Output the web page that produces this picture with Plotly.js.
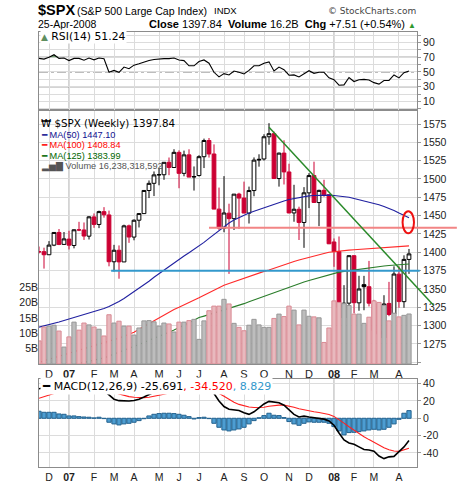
<!DOCTYPE html>
<html><head><meta charset="utf-8">
<script src="https://cdn.plot.ly/plotly-3.0.1.min.js"></script>
<style>html,body{margin:0;padding:0;background:#fff;}#chart{width:460px;height:482px;}</style>
</head><body><div id="chart"></div>
<script>
// ---------- data (weekly, Monday of each week) ----------
const weeks = ['2006-11-20','2006-11-27','2006-12-04','2006-12-11','2006-12-18','2006-12-25','2007-01-01','2007-01-08','2007-01-15','2007-01-22','2007-01-29','2007-02-05','2007-02-12','2007-02-19','2007-02-26','2007-03-05','2007-03-12','2007-03-19','2007-03-26','2007-04-02','2007-04-09','2007-04-16','2007-04-23','2007-04-30','2007-05-07','2007-05-14','2007-05-21','2007-05-28','2007-06-04','2007-06-11','2007-06-18','2007-06-25','2007-07-02','2007-07-09','2007-07-16','2007-07-23','2007-07-30','2007-08-06','2007-08-13','2007-08-20','2007-08-27','2007-09-03','2007-09-10','2007-09-17','2007-09-24','2007-10-01','2007-10-08','2007-10-15','2007-10-22','2007-10-29','2007-11-05','2007-11-12','2007-11-19','2007-11-26','2007-12-03','2007-12-10','2007-12-17','2007-12-24','2007-12-31','2008-01-07','2008-01-14','2008-01-21','2008-01-28','2008-02-04','2008-02-11','2008-02-18','2008-02-25','2008-03-03','2008-03-10','2008-03-17','2008-03-24','2008-03-31','2008-04-07','2008-04-14','2008-04-21'];

const openPx = [1400.4,1400.9,1396.7,1409.8,1427.1,1410.8,1418.0,1409.3,1430.7,1430.5,
1422.0,1448.3,1438.0,1455.5,1451.0,1387.1,1402.8,1386.9,1436.1,1420.8,
1443.8,1452.8,1484.3,1494.1,1505.6,1505.8,1522.8,1515.7,1536.3,1507.7,
1532.9,1502.6,1504.7,1530.4,1552.5,1534.1,1458.9,1433.0,1453.4,1445.9,
1479.4,1474.0,1453.4,1484.2,1525.8,1527.3,1557.6,1561.8,1500.6,1535.3,
1509.6,1453.7,1458.7,1440.7,1481.1,1504.7,1467.9,1484.5,1478.6,1414.1,
1401.0,1310.4,1330.7,1395.4,1331.1,1355.9,1353.1,1330.5,1293.2,1283.2,
1330.3,1315.9,1370.2,1332.7,1390.3];

const highPx = [1407.9,1406.3,1415.3,1427.2,1431.8,1427.7,1429.4,1431.2,1441.6,1440.7,
1449.3,1453.0,1456.8,1461.6,1456.9,1410.2,1409.4,1437.7,1437.8,1444.9,
1453.1,1484.7,1498.0,1510.3,1513.8,1522.8,1529.3,1540.6,1539.1,1538.7,
1540.5,1517.1,1532.4,1555.1,1555.9,1547.2,1488.3,1503.9,1466.3,1479.4,
1481.2,1496.4,1489.6,1529.4,1533.7,1561.0,1576.1,1564.7,1536.0,1552.8,
1520.8,1492.1,1462.2,1488.9,1508.0,1523.6,1485.4,1499.0,1478.8,1418.9,
1421.6,1355.2,1396.0,1396.0,1368.0,1367.9,1388.3,1335.1,1331.0,1341.5,
1359.7,1380.9,1381.0,1395.9,1404.6];

const lowPx = [1398.4,1377.8,1396.7,1408.4,1409.8,1410.5,1403.9,1405.4,1428.9,1416.9,
1417.5,1433.4,1433.0,1447.3,1380.9,1373.9,1364.0,1386.9,1412.9,1416.4,
1433.9,1452.8,1474.0,1476.7,1491.4,1498.9,1505.2,1515.7,1487.4,1503.7,
1502.6,1484.2,1503.4,1514.9,1529.2,1458.9,1430.5,1427.4,1370.6,1430.5,
1432.0,1453.4,1439.3,1476.5,1516.8,1525.1,1546.7,1500.5,1489.6,1492.5,
1453.3,1441.7,1416.8,1406.1,1460.3,1467.9,1435.7,1475.8,1411.2,1380.2,
1324.9,1270.1,1322.3,1316.8,1320.3,1321.0,1326.2,1282.1,1272.7,1256.98,
1312.9,1312.3,1324.3,1324.4,1370.6];

const closePx = [1400.95,1396.71,1409.84,1427.09,1410.76,1418.30,1409.71,1430.73,1430.50,1422.18,
1448.39,1438.06,1455.54,1451.19,1387.17,1402.84,1386.95,1436.11,1420.86,1443.76,
1452.85,1484.35,1494.07,1505.62,1505.85,1522.75,1515.73,1536.34,1507.67,1532.91,
1502.56,1503.35,1530.44,1552.50,1534.10,1458.95,1433.06,1453.64,1445.94,1479.37,
1473.99,1453.55,1484.25,1525.75,1526.75,1557.59,1561.80,1500.63,1535.28,1509.65,
1453.70,1458.74,1440.70,1481.14,1504.66,1467.95,1484.46,1478.49,1411.63,1401.02,
1325.19,1330.61,1395.42,1331.29,1349.99,1353.11,1330.63,1293.37,1288.14,1329.51,
1315.22,1370.40,1332.83,1390.33,1397.84];
const closeBeforeFirst = 1401.20;

const volumeB = [7.5,12.0,12.3,12.6,10.7,5.5,8.8,13.6,11.0,13.3,
12.7,12.0,11.3,9.1,16.0,13.3,13.9,12.3,12.3,9.4,
11.7,14.0,14.1,13.7,12.3,13.3,13.0,10.4,13.6,13.6,
14.1,14.5,8.0,14.0,17.3,18.8,18.8,21.0,19.5,13.2,
11.9,10.8,12.6,14.5,12.7,11.9,11.9,14.8,16.2,15.4,
18.8,17.5,12.7,17.5,15.5,15.3,15.0,7.0,11.7,20.5,
20.0,19.6,19.0,16.2,16.2,13.2,15.2,20.5,20.0,19.0,
14.0,16.5,15.3,15.8,16.24];

const ma50 = [1298,1299.5,1301,1303,1305,1307,1309,1311,1313,1315,
1317,1319,1321,1323.5,1326,1329,1333,1337,1341.5,1346,
1350.5,1355.5,1360.5,1366,1371,1376,1381,1386,1390.5,1395,
1399.5,1404,1408.5,1413.5,1419,1424.5,1430,1435,1440,1444,
1447.5,1450.5,1453.5,1456,1458.5,1461,1463.5,1466,1468,1470,
1472,1473.5,1475,1476,1477,1477.5,1478,1478,1478,1477.5,
1477,1476,1475,1473.5,1472,1470.5,1469,1467,1465,1462.5,
1460,1457,1453.5,1450.5,1447.10];

const ma100 = [1250,1252,1254,1256,1258,1260,1262,1264.5,1266.5,1268.5,
1270.5,1272.5,1274.5,1276.5,1279,1281,1283,1285.5,1288,1291,
1295,1299,1303,1307,1311,1315,1318.5,1322,1325,1328,
1331,1334.5,1338,1341.5,1345,1348.5,1352,1355,1357.5,1360,
1362.5,1365,1367,1369.5,1371.5,1374,1376,1378.5,1380.5,1383,
1385,1387.5,1389.5,1391.5,1393.5,1395.5,1397,1398.5,1400,1401,
1402,1402.5,1403,1403.5,1404,1404.5,1405,1405.5,1406,1406.5,
1407,1407.5,1408,1408.5,1408.84];

const ma125 = [1236,1237.5,1239,1240.5,1242,1243.5,1245,1246.5,1248,1249.5,
1251,1252.5,1254,1256,1258.5,1261,1263.5,1266,1268.5,1271,
1274,1277,1280,1282.5,1285,1288,1291,1294,1297,1300.5,
1304,1307.5,1311,1313,1315,1317,1319,1321,1323,1325,
1327.5,1330,1332.5,1335,1337.5,1340,1342.5,1345,1347.5,1350,
1352.5,1355,1357.5,1359.5,1361.5,1363.5,1365.5,1367.5,1369.5,1371.5,
1373,1374,1375,1376,1377,1378,1379,1380,1380.7,1381.3,
1382,1382.6,1383.1,1383.6,1383.99];

const rsi14 = [68.5,67.5,70,73.5,68.5,69,65.5,68.5,68.5,66,
69,66.5,69,68,49.6,52.2,49.6,56.7,54.4,59.3,
61.1,63.8,65.6,66.9,67.8,68.2,68.2,69.1,66.4,65.5,
58.4,58.4,64.2,66.4,62,49.6,43.3,47.8,46,51.3,
49.6,47.3,52.2,58.4,58.4,62,63.8,51.3,56.7,53.1,
45.6,46,43.3,47.8,51.8,48.2,49.6,49.6,42,39.5,
32,32.5,42.5,37,39.5,40,39,35.5,33.5,38.5,
38.5,46,42,49,51.24];

const macdLine = [34,35,36,37.5,37,37.5,36.5,36.5,36,35.5,
35,34,34.5,32,27,22,20.3,19.8,20,20.5,
22,24.5,27.5,30,33,35.5,37,38,38.5,38,
37,35.5,36,36.5,34.5,28.5,20,13.5,10.5,9.5,
9,6.5,4.5,7.5,12,16.5,19.5,19,18,15,
9.5,4.5,1.5,2.5,1.5,0.5,0,-1,-3,-8,
-17,-25,-28.5,-30,-33,-36,-36.5,-38,-43.5,-46.5,
-44.5,-44,-38.5,-33,-25.691];

const macdSignal = [23,25,27,28.5,30,31,32,32.5,33,33.2,
33.3,33.3,33.2,33,31.8,30,28,26.3,25,24.2,
23.8,23.8,24.3,25.2,26.4,27.8,29.2,30.4,31.5,32.4,
33,33.3,33.4,33.5,33.4,32,29,25.5,22,18.5,
16,14.2,13,12.5,12.4,12.8,13.8,14.6,15.2,15.2,
14.3,12.8,11,9.6,8.6,7.6,6.6,5.6,4.4,2.2,
-1.3,-5.6,-9.8,-13.8,-17.6,-21.2,-24.6,-27.8,-31,-34,
-36.4,-37.8,-38.2,-36.8,-34.52];

const macdHist = [8.1,6.9,6.9,6.9,5,4.6,2.7,2.7,1.9,1.5,
1.2,0.4,1.2,-0.4,-4.6,-6.5,-7.7,-6.5,-5.8,-4.6,
-2.7,-0.5,2.7,4.6,5.4,5.8,5.8,5.4,4.6,3.5,
1.9,-0.8,0.8,1.2,-0.4,-5.8,-10.4,-13.5,-14.6,-13.5,
-12.3,-10.4,-6.5,-2.7,0.6,3.1,5.8,3.5,3.1,0.8,
-3.8,-6.5,-8.1,-5.8,-4.2,-4.6,-4.6,-4.6,-5.8,-9.6,
-14.6,-19.2,-16.5,-16.2,-15.4,-14.6,-13.5,-12.7,-13.5,-12.7,
-10.4,-6.5,-1.2,5.8,8.829];

const monthTicks = ['2006-12-04','2007-01-01','2007-02-05','2007-03-05','2007-04-02','2007-05-07','2007-06-04','2007-07-02','2007-08-06','2007-09-03','2007-10-01','2007-11-05','2007-12-03','2008-01-07','2008-02-04','2008-03-03','2008-04-07'];
const monthLabels = ['D','07','F','M','A','M','J','J','A','S','O','N','D','08','F','M','A'];
const yearTicks = ['2007-01-01','2008-01-07'];

const priceTicks = [1250,1275,1300,1325,1350,1375,1400,1425,1450,1475,1500,1525,1550,1575];
const volTicks = [5,10,15,20,25];
const rsiTicks = [0,10,20,30,40,50,60,70,80,90,100];
const macdTicks = [-40,-20,0,20,40];

// chartist drawings
const supportLevel = 1375, supportFrom = '2007-03-01', supportTo = '2008-05-06';
const resistLevel = 1433.5, resistFrom = '2007-07-16', resistTo = '2008-06-27';
const trendFrom = ['2007-10-08', 1570.5], trendTo = ['2008-05-25', 1328.2];
const ellipseDates = ['2008-04-12','2008-04-28'], ellipsePrices = [1426, 1456];

// ---------- build ----------
const xRange = ['2006-11-20 00:00','2008-05-02 05:00'];
const r0 = Date.parse('2006-11-20T00:00:00Z'), r1 = Date.parse('2008-05-02T05:00:00Z');
const toPaper = d => (Date.parse(d + 'T00:00:00Z') - r0) / (r1 - r0);

const prevClose = closePx.map((c, i) => i === 0 ? closeBeforeFirst : closePx[i - 1]);
const isDown = closePx.map((c, i) => c < prevClose[i]);
function pick(arr, want) { return arr.filter((v, i) => isDown[i] === want); }

const RED = '#cc0033';
const dom = {rsi: [0.8207, 1], main: [0.2368, 0.8207], macd: [0, 0.2023]};
const grid = '#dcdcdc', border = '#8c8c8c';

const volTrace = {
  type: 'bar', x: weeks, y: volumeB, xaxis: 'x', yaxis: 'y2', hoverinfo: 'skip',
  marker: {color: isDown.map(d => d ? '#e8b9be' : '#bdbdbd'),
           line: {color: isDown.map(d => d ? '#d98a94' : '#979797'), width: 1}}
};
const maTrace = (y, c) => ({type: 'scatter', mode: 'lines', x: weeks, y: y, xaxis: 'x', yaxis: 'y',
  line: {color: c, width: 1.1}, hoverinfo: 'skip'});

const candleUp = {
  type: 'candlestick', x: pick(weeks, false), open: pick(openPx, false), high: pick(highPx, false),
  low: pick(lowPx, false), close: pick(closePx, false), xaxis: 'x', yaxis: 'y', hoverinfo: 'skip',
  increasing: {line: {color: '#000', width: 1}, fillcolor: '#fff'},
  decreasing: {line: {color: '#000', width: 1}, fillcolor: '#000'}
};
const candleDn = {
  type: 'candlestick', x: pick(weeks, true), open: pick(openPx, true), high: pick(highPx, true),
  low: pick(lowPx, true), close: pick(closePx, true), xaxis: 'x', yaxis: 'y', hoverinfo: 'skip',
  increasing: {line: {color: RED, width: 1}, fillcolor: '#fff'},
  decreasing: {line: {color: RED, width: 1}, fillcolor: RED}
};

const rsiBase = {type: 'scatter', mode: 'lines', x: weeks, y: weeks.map(() => 70), xaxis: 'x', yaxis: 'y3',
  line: {width: 0, color: 'rgba(0,0,0,0)'}, hoverinfo: 'skip'};
const rsiFill = {type: 'scatter', mode: 'lines', x: weeks, y: rsi14.map(v => Math.max(v, 70)), xaxis: 'x', yaxis: 'y3',
  fill: 'tonexty', fillcolor: '#6f9a6f', line: {width: 0, color: 'rgba(0,0,0,0)'}, hoverinfo: 'skip'};
const rsiLine = {type: 'scatter', mode: 'lines', x: weeks, y: rsi14, xaxis: 'x', yaxis: 'y3',
  line: {color: '#000', width: 1.1}, hoverinfo: 'skip'};

const histTrace = {type: 'bar', x: weeks, y: macdHist, xaxis: 'x2', yaxis: 'y4', hoverinfo: 'skip',
  marker: {color: '#4d9dd1', line: {color: '#23628f', width: 1}}};
const sigTrace = {type: 'scatter', mode: 'lines', x: weeks, y: macdSignal, xaxis: 'x2', yaxis: 'y4',
  line: {color: '#ff2020', width: 1.1}, hoverinfo: 'skip'};
const macdTrace = {type: 'scatter', mode: 'lines', x: weeks, y: macdLine, xaxis: 'x2', yaxis: 'y4',
  line: {color: '#000', width: 1.6}, hoverinfo: 'skip'};

const data = [volTrace, maTrace(ma125, '#2a7d2a'), maTrace(ma100, '#ff2a2a'), maTrace(ma50, '#2020a0'),
  candleUp, candleDn, rsiBase, rsiFill, rsiLine, histTrace, sigTrace, macdTrace];

const tickText = monthLabels.map(l => /^\d\d$/.test(l) ? '<b>' + l + '</b>' : l);

const xCommon = {
  type: 'date', range: xRange, tickmode: 'array', tickvals: monthTicks, ticktext: tickText,
  showgrid: true, gridcolor: grid, gridwidth: 1, ticks: '', zeroline: false,
  tickfont: {family: 'Liberation Sans, Arial, sans-serif', size: 11, color: '#222'},
  showline: true, linecolor: border, linewidth: 1, fixedrange: true
};

const yCommon = {showline: true, mirror: true, linecolor: border, linewidth: 1, zeroline: false,
  showgrid: true, gridcolor: grid, ticks: 'outside', ticklen: 3, tickcolor: '#999', tickmode: 'array',
  tickfont: {family: 'Liberation Sans, Arial, sans-serif', size: 10.5, color: '#222'}, fixedrange: true};

const shapes = [];
yearTicks.forEach(d => {
  [dom.rsi, dom.main].forEach(dm => shapes.push({type: 'line', xref: 'x', yref: 'paper', x0: d, x1: d,
    y0: dm[0], y1: dm[1], line: {color: '#a8a8a8', width: 1}, layer: 'below'}));
  shapes.push({type: 'line', xref: 'x2', yref: 'paper', x0: d, x1: d, y0: dom.macd[0], y1: dom.macd[1],
    line: {color: '#a8a8a8', width: 1}, layer: 'below'});
});
[[70, 'solid', '#555'], [30, 'solid', '#555'], [50, 'dashdot', '#777']].forEach(([v, dash, c]) =>
  shapes.push({type: 'line', xref: 'paper', yref: 'y3', x0: 0, x1: 1, y0: v, y1: v,
    line: {color: c, width: v === 50 ? 1 : 1.3, dash: dash}, layer: 'below'}));
shapes.push({type: 'line', xref: 'paper', yref: 'y', x0: toPaper(resistFrom), x1: toPaper(resistTo),
  y0: resistLevel, y1: resistLevel, line: {color: '#f28585', width: 2}, layer: 'above'});
shapes.push({type: 'line', xref: 'paper', yref: 'y', x0: toPaper(supportFrom), x1: toPaper(supportTo),
  y0: supportLevel, y1: supportLevel, line: {color: '#3399cc', width: 2}, layer: 'above'});
shapes.push({type: 'line', xref: 'paper', yref: 'y', x0: toPaper(trendFrom[0]), x1: toPaper(trendTo[0]),
  y0: trendFrom[1], y1: trendTo[1], line: {color: '#2a8a2a', width: 1.5}, layer: 'above'});
shapes.push({type: 'circle', xref: 'x', yref: 'y', x0: ellipseDates[0], x1: ellipseDates[1],
  y0: ellipsePrices[0], y1: ellipsePrices[1], line: {color: '#ee1111', width: 2}, layer: 'above'});

const px2x = p => (p - 39) / 378, py2y = p => (467 - p) / 435;
const ann = (text, px, py, opts) => Object.assign({text: text, x: px2x(px), y: py2y(py), xref: 'paper', yref: 'paper',
  xanchor: 'left', yanchor: 'middle', showarrow: false, borderpad: 0,
  font: {family: 'Liberation Sans, Arial, sans-serif', size: 11, color: '#000'}}, opts || {});
const DV = 'DejaVu Sans, Verdana, sans-serif';
const LS = 'Liberation Sans, Arial, sans-serif';

const annotations = [
  ann('<b>$SPX</b>', 37, 10.5, {font: {family: LS, size: 14.5, color: '#000'}}),
  ann('(S&P 500 Large Cap Index)', 76, 11, {font: {family: LS, size: 10.6, color: '#000'}}),
  ann('INDX', 213, 11, {font: {family: LS, size: 9.5, color: '#000'}}),
  ann('© StockCharts.com', 417, 11, {xanchor: 'right', font: {family: DV, size: 9, color: '#444'}}),
  ann('25-Apr-2008', 37, 24, {font: {family: LS, size: 10.5, color: '#000'}}),
  ann('<b>Close</b> 1397.84  <b>Volume</b> 16.2B  <b>Chg</b> +7.51 (+0.54%) <span style="color:#2e9a2e;font-size:8px">▲</span>',
      417, 24, {xanchor: 'right', font: {family: LS, size: 11, color: '#000'}}),
  ann('<span style="color:#5f8f5f;font-size:9px">▲</span> RSI(14) 51.24', 40, 36.5,
      {font: {family: DV, size: 10.8, color: '#000'}, bgcolor: '#fff'}),
  ann('₩ $SPX (Weekly) 1397.84', 40, 123, {font: {family: DV, size: 10.3, color: '#000'}}),
  ann('━ MA(50) 1447.10', 40, 134.5, {font: {family: LS, size: 9.2, color: '#101090'}}),
  ann('━ MA(100) 1408.84', 40, 145.3, {font: {family: LS, size: 9.2, color: '#ff0000'}}),
  ann('━ MA(125) 1383.99', 40, 156, {font: {family: LS, size: 9.2, color: '#006600'}}),
  ann('▂▅▇ Volume 16,238,318,592', 40, 166.8, {font: {family: LS, size: 9.2, color: '#555'}}),
  ann('<span style="font-size:12px">━</span> MACD(12,26,9) -25.691<span style="color:#ff0000">, -34.520</span><span style="color:#3399cc">, 8.829</span>',
      40, 385.5, {font: {family: DV, size: 11, color: '#000'}, bgcolor: '#fff', borderpad: 1})
];

const layout = {
  width: 460, height: 482, margin: {l: 39, r: 43, t: 32, b: 15, pad: 0},
  paper_bgcolor: '#fff', plot_bgcolor: '#fff', showlegend: false, hovermode: false,
  font: {family: LS, size: 11, color: '#222'},
  bargap: 0.15, boxgap: 0.25, boxgroupgap: 0,
  xaxis: Object.assign({}, xCommon, {anchor: 'y', domain: [0, 1], mirror: 'all', rangeslider: {visible: false}}),
  xaxis2: Object.assign({}, xCommon, {anchor: 'y4', domain: [0, 1], matches: 'x', mirror: true,
    rangeslider: {visible: false}, tickfont: {family: LS, size: 10.5, color: '#222'}}),
  yaxis: Object.assign({}, yCommon, {domain: dom.main, range: [1247.7, 1594.1], side: 'right', anchor: 'x',
    tickvals: priceTicks, ticktext: priceTicks.map(v => v === 1250 ? '' : String(v))}),
  yaxis2: {overlaying: 'y', side: 'left', anchor: 'x', range: [0, 82.5], showgrid: false, zeroline: false,
    showline: false, ticks: '', tickmode: 'array', tickvals: volTicks, ticktext: volTicks.map(v => v + 'B'),
    tickfont: {family: LS, size: 10.5, color: '#222'}, fixedrange: true},
  yaxis3: Object.assign({}, yCommon, {domain: dom.rsi, range: [-1.7, 104.4], side: 'right', anchor: 'x',
    tickvals: rsiTicks, ticktext: rsiTicks.map(v => [10, 30, 50, 70, 90].includes(v) ? String(v) : '')}),
  yaxis4: Object.assign({}, yCommon, {domain: dom.macd, range: [-56.2, 45.3], side: 'right', anchor: 'x2',
    tickvals: macdTicks, ticktext: macdTicks.map(String)}),
  shapes: shapes,
  annotations: annotations
};

Plotly.newPlot('chart', data, layout, {staticPlot: true, displayModeBar: false});
</script>
</body></html>
